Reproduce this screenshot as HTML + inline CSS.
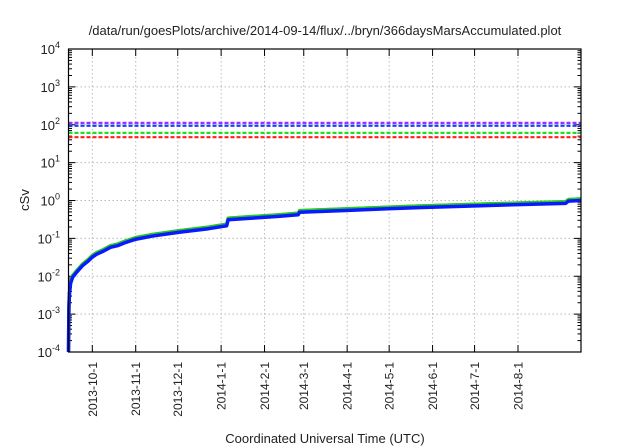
<!DOCTYPE html>
<html><head><meta charset="utf-8"><style>
body{margin:0;background:#fff}
svg{display:block;font-family:"Liberation Sans",sans-serif}
</style></head><body>
<svg id="chart" width="640" height="448">
<text x="325" y="35" text-anchor="middle" font-size="13" fill="#222">/data/run/goesPlots/archive/2014-09-14/flux/../bryn/366daysMarsAccumulated.plot</text>
<text transform="translate(29,200) rotate(-90)" text-anchor="middle" font-size="13" fill="#222">cSv</text>
<text x="325" y="443" text-anchor="middle" font-size="13" fill="#222">Coordinated Universal Time (UTC)</text>
<g id="grid"></g><g id="ticks"></g><g id="lines"></g><g id="series"></g>
<rect x="68.5" y="49" width="512.5" height="303" fill="none" stroke="#000" stroke-width="1.2"/>
</svg>
<script>
const monthLabels=["2013-10-1","2013-11-1","2013-12-1","2014-1-1","2014-2-1","2014-3-1","2014-4-1","2014-5-1","2014-6-1","2014-7-1","2014-8-1"];
const monthDays=[17,48,78,109,140,168,199,229,260,290,321];
const yExps=[-4,-3,-2,-1,0,1,2,3,4];
const limitNames=["purple-limit","blue-limit","green-limit","red-limit"];
const limitValues=[112,94,61,47];
const limitColors=["#9b30ff","#1a3cff","#22dd22","#ff2020"];
const days=[0,0.3,0.7,1.5,3,6,10,14,17,20,25,30,35,40,48,60,79,100,113,114,130,150,164,165,200,250,300,355,357,366];
const blueVals=[1e-4,1.5e-3,3.5e-3,6.5e-3,9.5e-3,1.3e-2,1.9e-2,2.5e-2,3.2e-2,3.8e-2,4.6e-2,5.8e-2,6.4e-2,7.6e-2,0.095,0.115,0.145,0.18,0.215,0.31,0.34,0.38,0.42,0.49,0.55,0.65,0.74,0.84,0.96,1.0];
const greenVals=blueVals.map(v=>v*1.1);
const redVals=blueVals.map(v=>v*1.13);
const X0=68.5,X1=581,Y0=352,Y1=49,NDAYS=366;
const xs=d=>X0+(X1-X0)*d/NDAYS;
const ys=v=>Y0-(Math.log10(v)+4)*(Y0-Y1)/8;
const NS="http://www.w3.org/2000/svg";
function mk(t,a,p){const e=document.createElementNS(NS,t);for(const k in a)e.setAttribute(k,a[k]);document.getElementById(p).appendChild(e);return e;}
monthDays.forEach((d,i)=>{
 const x=xs(d);
 const g=mk("line",{x1:x,x2:x,y1:Y1,y2:Y0,stroke:"#bbb","stroke-dasharray":"1.5,2.5"},"grid");
 
 
 mk("line",{x1:x,x2:x,y1:Y0,y2:Y0-7,stroke:"#000"},"ticks");
 mk("line",{x1:x,x2:x,y1:Y1,y2:Y1+7,stroke:"#000"},"ticks");
 const t=mk("text",{transform:`translate(${x+4.5},362) rotate(-90)`,"text-anchor":"end","font-size":"12",fill:"#222"},"ticks");
 t.textContent=monthLabels[i];
 
 
});
yExps.forEach(e=>{
 const y=ys(Math.pow(10,e));
 if(e>-4&&e<4){const g=mk("line",{x1:X0,x2:X1,y1:y,y2:y,stroke:"#bbb","stroke-dasharray":"1.5,2.5"},"grid");
 
 }
 mk("line",{x1:X0,x2:X0+7,y1:y,y2:y,stroke:"#000"},"ticks");
 mk("line",{x1:X1,x2:X1-7,y1:y,y2:y,stroke:"#000"},"ticks");
 if(e<4)for(let m=2;m<10;m++){const yy=ys(m*Math.pow(10,e));
  mk("line",{x1:X0,x2:X0+3.5,y1:yy,y2:yy,stroke:"#000"},"ticks");
  mk("line",{x1:X1,x2:X1-3.5,y1:yy,y2:yy,stroke:"#000"},"ticks");}
 const t=mk("text",{x:60,y:y+5,"text-anchor":"end","font-size":"13",fill:"#222"},"ticks");
 t.innerHTML=`10<tspan dy="-6" font-size="9">${e}</tspan>`;
 
 
});
limitValues.forEach((v,i)=>{
 const y=ys(v);
 const l=mk("line",{x1:X0,x2:X1,y1:y,y2:y,stroke:limitColors[i],"stroke-width":"2.2","stroke-dasharray":"4,2"},"lines");
 
 
});
[[redVals,"#e08060","red-series","2.5"],[greenVals,"#22cc22","green-series","3.5"],[blueVals,"#0a1aff","blue-series","3.5"]].forEach(([vals,c,n,w])=>{
 const p=mk("polyline",{points:days.map((d,i)=>xs(d)+","+ys(vals[i])).join(" "),fill:"none",stroke:c,"stroke-width":w,"stroke-linejoin":"round"},"series");
 
 
});
</script>
</body></html>
